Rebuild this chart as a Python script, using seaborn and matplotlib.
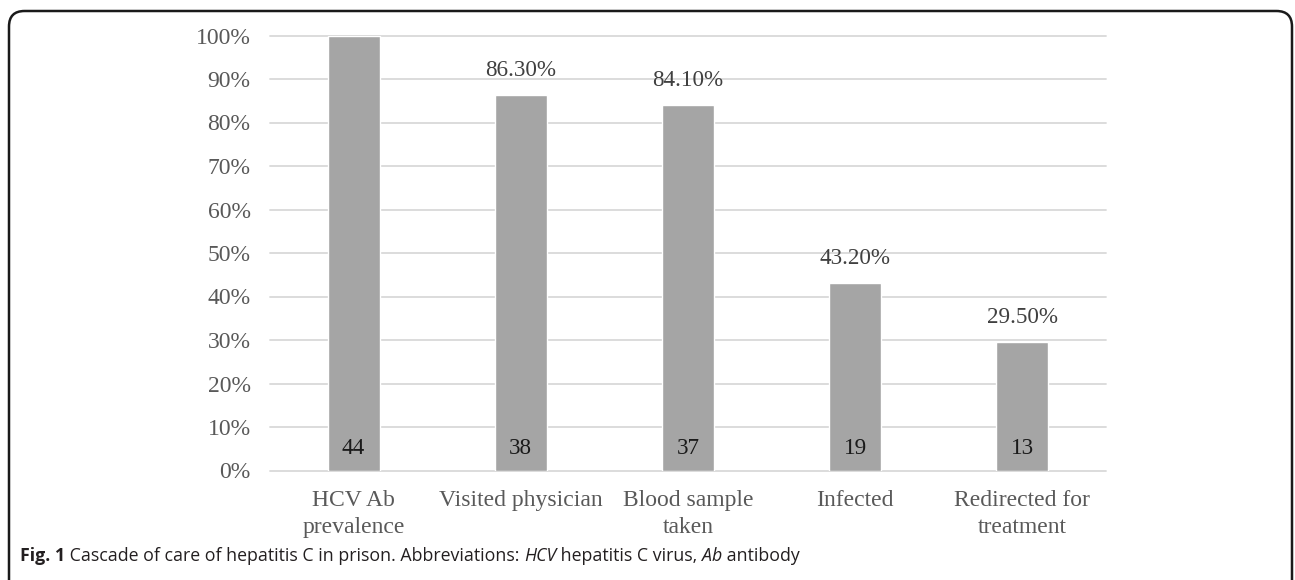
import matplotlib
matplotlib.use("Agg")
import matplotlib.pyplot as plt
import seaborn as sns
import pandas as pd
from matplotlib import font_manager
from matplotlib.patches import FancyBboxPatch
from matplotlib.ticker import PercentFormatter

# data
stages = ["HCV Ab\nprevalence", "Visited physician", "Blood sample\ntaken", "Infected", "Redirected for\ntreatment"]
shares = [1.0, 0.863, 0.841, 0.432, 0.295]
counts = [44, 38, 37, 19, 13]
share_labels = ["", "86.30%", "84.10%", "43.20%", "29.50%"]

caption_parts = [
    ("Fig. 1", "bold", "normal"),
    (" Cascade of care of hepatitis C in prison. Abbreviations: ", "normal", "normal"),
    ("HCV", "normal", "italic"),
    (" hepatitis C virus, ", "normal", "normal"),
    ("Ab", "normal", "italic"),
    (" antibody", "normal", "normal"),
]

sns.set_style("white")
plt.rcParams['font.family'] = ['Liberation Serif', 'DejaVu Serif']

installed = {f.name for f in font_manager.fontManager.ttflist}
if 'Liberation Sans Narrow' in installed:
    cap_font, cap_size = 'Liberation Sans Narrow', 13.5
else:
    cap_font, cap_size = 'Open Sans', 12.75

df = pd.DataFrame({"stage": stages, "share": shares})

W, H = 1295, 580
fig = plt.figure(figsize=(W / 100, H / 100), dpi=100)
ax = fig.add_axes([270 / W, (H - 470.5) / H, (1106 - 270) / W, (470.5 - 35.5) / H])

sns.barplot(data=df, x="stage", y="share", color="#A5A5A5", saturation=1,
            width=0.31, ax=ax)

ax.set_ylim(0, 1)
ax.set_yticks([i / 10 for i in range(11)])
ax.yaxis.set_major_formatter(PercentFormatter(1.0, decimals=0))
ax.grid(axis="y", color="#D9D9D9", linewidth=1.3)
ax.set_axisbelow(True)
for gl in ax.get_ygridlines():
    gl.set_clip_on(False)
for s in ax.spines.values():
    s.set_visible(False)
ax.tick_params(axis="both", length=0, labelsize=17, labelcolor="#595959")
ax.tick_params(axis="y", pad=14)
ax.tick_params(axis="x", pad=14)
for lbl in ax.get_xticklabels():
    lbl.set_linespacing(1.35)
ax.set_xlabel("")
ax.set_ylabel("")

# percentage labels above bars, counts inside near the base
for i, (v, c, t) in enumerate(zip(shares, counts, share_labels)):
    if t:
        ax.annotate(t, (i, v), xytext=(0, 17.5), textcoords="offset points",
                    ha="center", va="center", fontsize=16.7, color="#404040")
    ax.text(i, 0.05, str(c), ha="center", va="center", fontsize=16.7, color="#1a1a1a")

# rounded frame around the figure, open at the bottom
frame = FancyBboxPatch((9 / W, -40 / H), (1292 - 9) / W, (H - 11 + 40) / H,
                       boxstyle="round,pad=0,rounding_size=0.012",
                       transform=fig.transFigure, fill=False,
                       edgecolor="#1a1a1a", linewidth=1.8, mutation_aspect=W / H)
fig.add_artist(frame)

# caption with mixed bold / italic runs
renderer = fig.canvas.get_renderer()
x = 20 / W
for txt, weight, style in caption_parts:
    t = fig.text(x, 24 / H, txt, family=cap_font, fontsize=cap_size,
                 fontweight=weight, fontstyle=style, color="#231f20",
                 ha="left", va="center")
    bb = t.get_window_extent(renderer=renderer)
    x = bb.x1 / W

fig.savefig("out.png", dpi=100)
